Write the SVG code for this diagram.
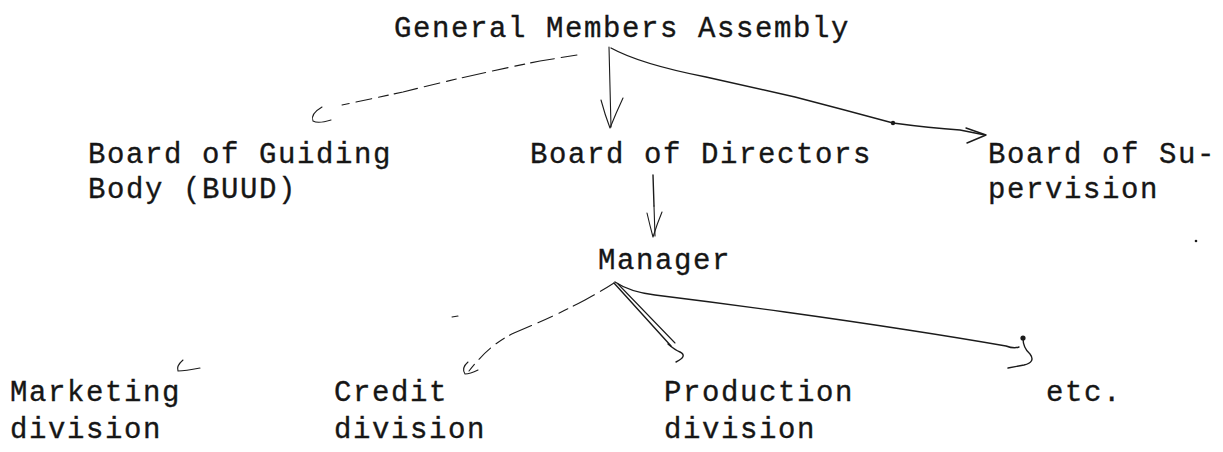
<svg xmlns="http://www.w3.org/2000/svg" width="1223" height="452" viewBox="0 0 1223 452">
  <style>
    .lbl { font-family: "Liberation Mono", "DejaVu Sans Mono", monospace; font-size: 29px; letter-spacing: 1.6px; fill: #161616; stroke: #161616; stroke-width: 0.35; }
    .ink { fill: none; stroke: #1b1b1b; stroke-width: 1.4; stroke-linecap: round; stroke-linejoin: round; }
    .thin { stroke-width: 1.1; }
    .dash { stroke-dasharray: 16 7 24 6 10 7; stroke-width: 1.1; }
    .dot { fill: #1b1b1b; }
  </style>
  <rect width="1223" height="452" fill="#ffffff"/>

  <g id="node-general-assembly">
    <text class="lbl" x="394" y="37">General Members Assembly</text>
  </g>
  <g id="node-guiding-body">
    <text class="lbl" x="88" y="163">Board of Guiding</text>
    <text class="lbl" x="88" y="198">Body (BUUD)</text>
  </g>
  <g id="node-directors">
    <text class="lbl" x="530" y="163">Board of Directors</text>
  </g>
  <g id="node-supervision">
    <text class="lbl" x="988" y="163">Board of Su-</text>
    <text class="lbl" x="988" y="198">pervision</text>
  </g>
  <g id="node-manager">
    <text class="lbl" x="598" y="269">Manager</text>
  </g>
  <g id="node-marketing">
    <text class="lbl" x="10" y="401">Marketing</text>
    <text class="lbl" x="10" y="438">division</text>
  </g>
  <g id="node-credit">
    <text class="lbl" x="334" y="401">Credit</text>
    <text class="lbl" x="334" y="438">division</text>
  </g>
  <g id="node-production">
    <text class="lbl" x="664" y="401">Production</text>
    <text class="lbl" x="664" y="438">division</text>
  </g>
  <g id="node-etc">
    <text class="lbl" x="1046" y="401">etc.</text>
  </g>

  <g id="connectors">
    <!-- assembly to guiding body: dashed, with a hooked tip -->
    <path class="ink dash" d="M577 55 L540 61 Q470 75 403 92 L342 105"/>
    <path class="ink thin" d="M322 107 Q310 114 313 121 Q318 124 331 120"/>
    <!-- assembly to directors -->
    <path class="ink thin" d="M609 47 L611 127"/>
    <path class="ink thin" d="M601 100 Q605 115 610 128 Q616 113 623 98"/>
    <!-- assembly to supervision -->
    <path class="ink" d="M611 48 Q640 64 706 77 Q750 87 795 97 Q845 110 893 123 Q930 128 960 130 L985 135"/>
    <path class="ink" d="M966 128 L986 135 L967 143"/>
    <circle class="dot" cx="893" cy="123" r="2.2"/>
    <!-- directors to manager -->
    <path class="ink" d="M653 175 L654 206"/>
    <path class="ink thin" d="M654 206 L655 236"/>
    <path class="ink thin" d="M647 213 Q650 226 653 237 Q657 224 662 212"/>
    <!-- manager to credit: dashed, with a hooked tip -->
    <path class="ink dash" d="M614 283 Q600 292 585 300 Q555 316 514 333 Q490 344 469 371"/>
    <path class="ink thin" d="M468 362 Q461 368 465 374 Q470 374 478 370"/>
    <!-- manager to production: doubled stroke ending in a curl -->
    <path class="ink" d="M614 283 L671 346"/>
    <path class="ink thin" d="M618 284 L675 343"/>
    <path class="ink" d="M668 344 Q675 350 680 352 Q688 356 676 362"/>
    <!-- manager to etc. -->
    <path class="ink" d="M615 282 Q630 292 655 295 Q720 303 785 312 Q850 321 908 330 Q960 338 1006 346 Q1014 349 1019 347"/>
    <circle class="dot" cx="1023" cy="338" r="2.6"/>
    <path class="ink" d="M1023 338 Q1023 348 1030 354 Q1036 362 1024 365 L1008 368"/>
  </g>

  <!-- stray pen marks -->
  <path class="ink thin" d="M452 317 L458 316"/>
  <path class="ink thin" d="M183 360 Q176 366 178 371 Q185 371 200 368"/>
  <circle class="dot" cx="1196" cy="241" r="1.3"/>
</svg>
